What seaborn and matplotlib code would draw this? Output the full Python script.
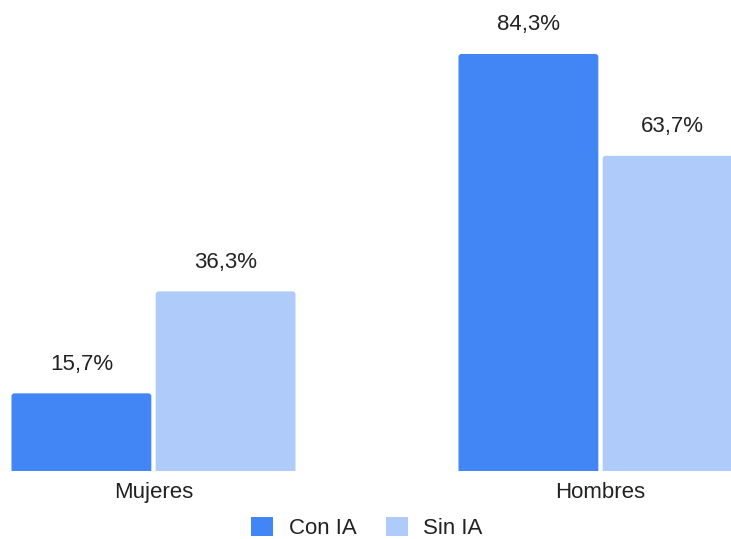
import matplotlib
matplotlib.use("Agg")
import matplotlib.pyplot as plt
from matplotlib.patches import FancyBboxPatch, Patch
import seaborn as sns
import pandas as pd

categories = ["Mujeres", "Hombres"]
series_names = ["Con IA", "Sin IA"]
con_ia = [15.7, 84.3]
sin_ia = [36.3, 63.7]
colors = ["#4285F4", "#AECBFA"]

df = pd.DataFrame({
    "cat": categories * 2,
    "serie": [series_names[0]] * 2 + [series_names[1]] * 2,
    "val": con_ia + sin_ia,
})

sns.set_theme(style="white")
plt.rcParams["font.family"] = ["Liberation Sans", "DejaVu Sans"]

FS = 16

fig = plt.figure(figsize=(7.31, 5.39), dpi=100)
ax = fig.add_axes([0, 68 / 539, 1, 471 / 539])
sns.barplot(data=df, x="cat", y="val", hue="serie", palette=colors,
            order=categories, hue_order=series_names,
            width=0.645, gap=0.03, ax=ax, legend=False, saturation=1)

ax.set_xlim(-153.5 / 447, (731 - 153.5) / 447)
ymax = 471 / 4.947
ax.set_ylim(0, ymax)

# rounded top corners
px_x = 1 / 447.0
px_y = ymax / 471.0
r = 3 * px_x
aspect = px_y / px_x
old = list(ax.patches)
for p in old:
    x, y = p.get_x(), p.get_y()
    w, h = p.get_width(), p.get_height()
    fc = p.get_facecolor()
    p.remove()
    fb = FancyBboxPatch((x, y - 5 * px_y), w, h + 5 * px_y,
                        boxstyle=f"round,pad=0,rounding_size={r}",
                        mutation_aspect=aspect, facecolor=fc,
                        edgecolor="none", linewidth=0)
    ax.add_patch(fb)
    ax.annotate(f"{h:.1f}".replace(".", ",") + "%",
                (x + w / 2, h), xytext=(0, 29 * 0.72),
                textcoords="offset points", ha="center", va="center",
                fontsize=FS, color="#222222")

ax.set_xlabel("")
ax.set_ylabel("")
ax.set_yticks([])
ax.tick_params(axis="x", length=0, pad=8, labelsize=FS, labelcolor="#222222")
for s in ax.spines.values():
    s.set_visible(False)

handles = [Patch(facecolor=c, edgecolor="none") for c in colors]
fig.legend(handles, series_names, loc="center", bbox_to_anchor=(367 / 731, 1 - 528 / 539),
           ncol=2, frameon=False, fontsize=FS, handlelength=1.0, handleheight=0.9,
           columnspacing=1.3, handletextpad=0.7, labelcolor="#222222",
           borderpad=0.2)

fig.savefig("out.png", dpi=100)
